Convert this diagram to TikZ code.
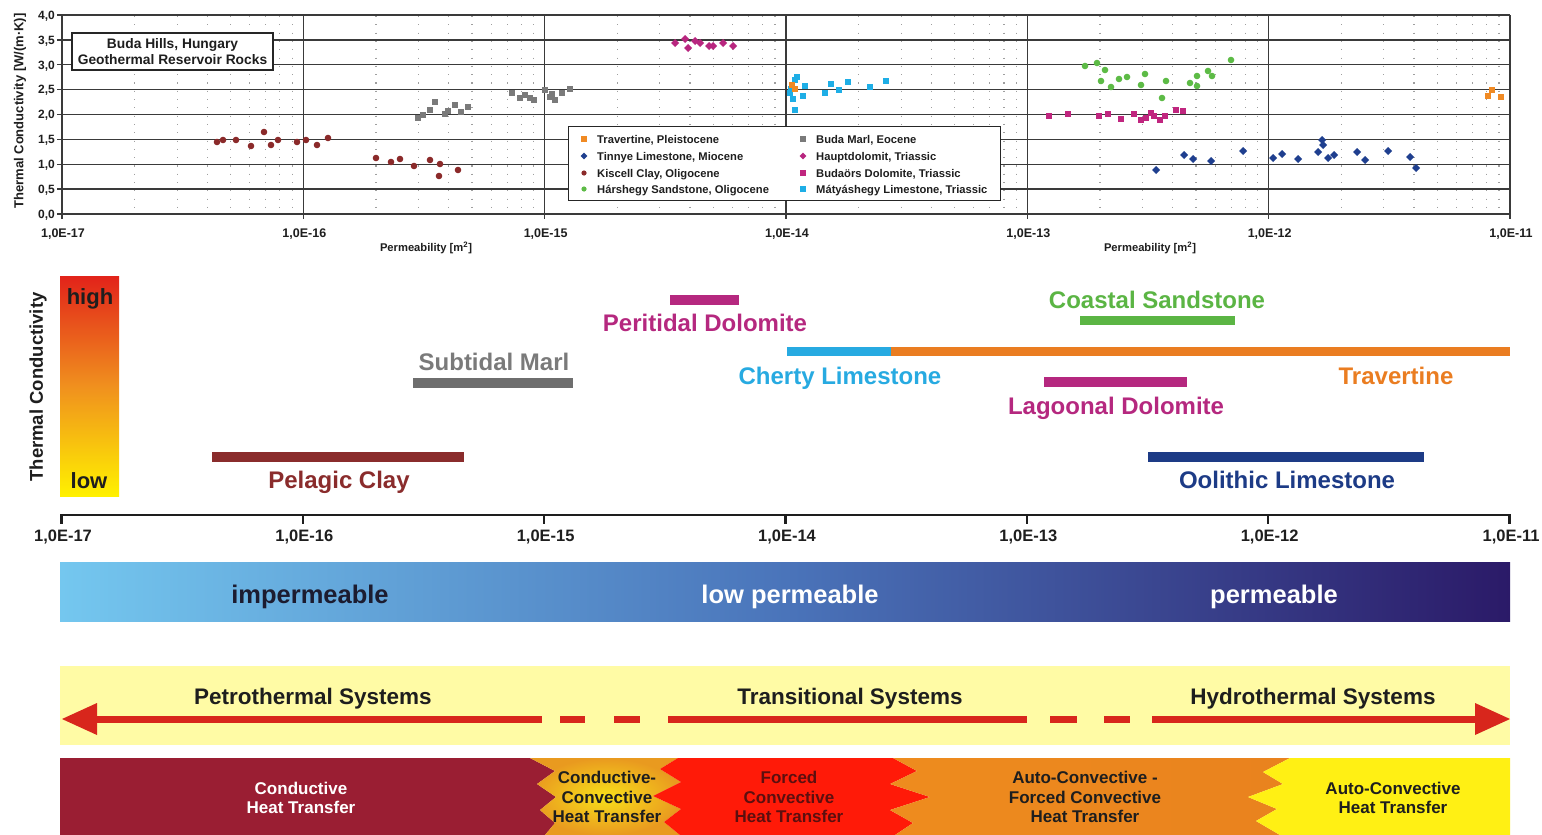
\documentclass[tikz,border=0pt]{standalone}
\usepackage{fontspec}
\setmainfont{Liberation Sans}
\usetikzlibrary{shapes.geometric}
\definecolor{cTrav}{HTML}{F08A24}
\definecolor{cTinn}{HTML}{1F3F8F}
\definecolor{cKisc}{HTML}{8B2A2A}
\definecolor{cHars}{HTML}{5DBB46}
\definecolor{cMarl}{HTML}{7A7A7A}
\definecolor{cHaup}{HTML}{B8267F}
\definecolor{cBudo}{HTML}{C0267F}
\definecolor{cMaty}{HTML}{1EAEE6}
\definecolor{txtd}{HTML}{1E1E1E}
\definecolor{gridc}{HTML}{3A3A3A}
\definecolor{hiC}{HTML}{E2231A}
\definecolor{midC}{HTML}{F0901E}
\definecolor{loC}{HTML}{FFF100}
\definecolor{rMag}{HTML}{B5287F}
\definecolor{rGreen}{HTML}{5BB544}
\definecolor{rGrey}{HTML}{6E6E6E}
\definecolor{rGreyT}{HTML}{7A7A7A}
\definecolor{rCyan}{HTML}{27AAE1}
\definecolor{rOrange}{HTML}{EA7D21}
\definecolor{rRed}{HTML}{8A2C2C}
\definecolor{rNavy}{HTML}{1D3B86}
\definecolor{pL}{HTML}{74C7EF}
\definecolor{pM}{HTML}{4A74BA}
\definecolor{pR}{HTML}{2B1A68}
\definecolor{pTxt}{HTML}{1C1C30}
\definecolor{sysY}{HTML}{FFFBA5}
\definecolor{arrR}{HTML}{D8261C}
\definecolor{hMaroon}{HTML}{9A1E33}
\definecolor{hYel}{HTML}{F8E01A}
\definecolor{hOrg}{HTML}{E99A1F}
\definecolor{hRed}{HTML}{FF1A08}
\definecolor{hO1}{HTML}{EE8C1E}
\definecolor{hO2}{HTML}{F8C81A}
\definecolor{hO3}{HTML}{E9821E}
\definecolor{hY}{HTML}{FFF014}
\definecolor{hRedTxt}{HTML}{5C0F0F}
\newcommand{\fsz}[2]{\fontsize{#1}{#2}\selectfont}
\newcommand\Msq[4]{\fill[#1] ({#2-#4},{#3-#4}) rectangle ({#2+#4},{#3+#4});}
\newcommand\Mdi[4]{\fill[#1] ({#2},{#3-#4}) -- ({#2+#4},{#3}) -- ({#2},{#3+#4}) -- ({#2-#4},{#3}) -- cycle;}
\newcommand\Mci[4]{\fill[#1] (#2,#3) circle (#4pt);}
\begin{document}
\begin{tikzpicture}[x=1pt,y=-1pt,
  every node/.style={inner sep=0pt},
  grid/.style={draw=gridc,line width=1.3pt},
  dotl/.style={draw=gray!75,line width=1.1pt,dash pattern=on 1.1pt off 7.2pt},
  tlab/.style={font=\bfseries\fsz{12.5}{14},text=txtd,anchor=base},
  leg/.style={font=\bfseries\fsz{11.2}{13},text=txtd,anchor=base west},
  rock/.style={font=\bfseries\fsz{24}{28},anchor=base},
  axl/.style={font=\bfseries\fsz{16.5}{19},text=txtd,anchor=base},
  perm/.style={font=\bfseries\fsz{25.5}{30},anchor=base},
  sys/.style={font=\bfseries\fsz{22.5}{26},text=txtd,anchor=base},
  heat/.style={font=\bfseries\fsz{17}{19.5},align=center},
  arrline/.style={draw=arrR,line width=7pt}
]
\useasboundingbox (0,0) rectangle (1542,835);
\fill[white] (0,0) rectangle (1542,835);

% ---------------- top chart ----------------
\foreach \d in {0,...,5} \foreach \m in {2,...,9}
  \draw[dotl] ({62+(\d+log10(\m))*241.333},16) -- ({62+(\d+log10(\m))*241.333},213);
\foreach \v in {0,...,8} \draw[grid] (57,{214-\v*24.875}) -- (1510,{214-\v*24.875});
\foreach \d in {0,...,6} \draw[grid] ({62+\d*241.333},15) -- ({62+\d*241.333},219);

\foreach \v/\a/\b in {0/0/0,1/0/5,2/1/0,3/1/5,4/2/0,5/2/5,6/3/0,7/3/5,8/4/0}
  \node[font=\bfseries\fsz{12}{14},text=txtd,anchor=base east] (yl\v) at (55,{214-\v*24.875+4.3}) {\a,\b};
\foreach \d/\e in {0/17,1/16,2/15,3/14,4/13,5/12,6/11}
  \node[tlab] (tx\e) at ({63+\d*241.333},237.5) {1,0E-\e};
\node[font=\bfseries\fsz{11.2}{13},text=txtd,anchor=base] (plA) at (426,251) {Permeability [m\textsuperscript{2}]};
\node[font=\bfseries\fsz{11.2}{13},text=txtd,anchor=base] (plB) at (1150,251) {Permeability [m\textsuperscript{2}]};
\node[font=\bfseries\fsz{13}{15},text=txtd,rotate=90] (ytitle) at (20,111) {Thermal Conductivity [W/(m·K)]};

\node[draw=black!85,line width=1.2pt,fill=white,minimum width=201pt,minimum height=37pt,align=center,font=\bfseries\fsz{13.8}{16.5},text=txtd] (buda) at (172.5,51.5) {Buda Hills, Hungary\\Geothermal Reservoir Rocks};

\node[draw=black!85,line width=1pt,fill=white,minimum width=432pt,minimum height=74pt] (legend) at (784,163) {};
\Msq{cTrav}{584}{139}{2.6}
\Mdi{cTinn}{584}{156}{3.3}
\Mci{cKisc}{584}{173}{2.6}
\Mci{cHars}{584}{189}{2.6}
\Msq{cMarl}{803}{139}{2.6}
\Mdi{cHaup}{803}{156}{3.3}
\Msq{cBudo}{803}{173}{2.6}
\Msq{cMaty}{803}{189}{2.6}
\node[leg] (lg1) at (597,143) {Travertine, Pleistocene};
\node[leg] (lg2) at (597,160) {Tinnye Limestone, Miocene};
\node[leg] (lg3) at (597,177) {Kiscell Clay, Oligocene};
\node[leg] (lg4) at (597,193) {Hárshegy Sandstone, Oligocene};
\node[leg] (lg5) at (816,143) {Buda Marl, Eocene};
\node[leg] (lg6) at (816,160) {Hauptdolomit, Triassic};
\node[leg] (lg7) at (816,177) {Budaörs Dolomite, Triassic};
\node[leg] (lg8) at (816,193) {Mátyáshegy Limestone, Triassic};

% data points
\foreach \x/\y in {217/142,223/140,236/140,251/146,264/132,271/145,278/140,297/142,306/140,317/145,328/138,376/158,391/162,400/159,414/166,430/160,440/164,439/176,458/170}
  {\Mci{cKisc}{\x}{\y}{3.3}}
\foreach \x/\y in {418/118,423/115,430/110,435/102,445/114,448/111,455/105,461/112,468/107,512/93,520/98,525/95,530/98,534/100,545/90,550/97,552/94,555/100,562/93,570/89}
  {\Msq{cMarl}{\x}{\y}{3.2}}
\foreach \x/\y in {675/43,685/39,688/48,695/41,700/43,709/46,713/46,723/43,733/46}
  {\Mdi{cHaup}{\x}{\y}{4}}
\foreach \x/\y in {797/77,795/80,791/89,790/93,793/99,795/110,805/86,803/96,825/93,831/84,839/90,848/82,870/87,886/81}
  {\Msq{cMaty}{\x}{\y}{3.2}}
\foreach \x/\y in {792/85,795/89,1488/96,1492/90,1501/97}
  {\Msq{cTrav}{\x}{\y}{3.3}}
\foreach \x/\y in {1085/66,1097/63,1105/70,1101/81,1111/87,1119/79,1127/77,1145/74,1141/85,1162/98,1166/81,1190/83,1197/76,1197/86,1208/71,1212/76,1231/60}
  {\Mci{cHars}{\x}{\y}{3.3}}
\foreach \x/\y in {1049/116,1068/114,1099/116,1108/114,1121/119,1134/114,1141/120,1146/118,1151/113,1154/116,1160/120,1165/116,1176/110,1183/111}
  {\Msq{cBudo}{\x}{\y}{3.2}}
\foreach \x/\y in {1156/170,1184/155,1193/159,1211/161,1243/151,1273/158,1282/154,1298/159,1318/152,1322/140,1323/145,1328/158,1334/155,1357/152,1365/160,1388/151,1410/157,1416/168}
  {\Mdi{cTinn}{\x}{\y}{4}}

% ---------------- middle panel ----------------
\shade[top color=hiC,bottom color=loC,middle color=midC] (60,276) rectangle (119,496);
\node[font=\bfseries\fsz{22}{26},text=txtd,anchor=base] (hi) at (90,304) {high};
\node[font=\bfseries\fsz{22}{26},text=txtd,anchor=base] (lo) at (89,488) {low};
\node[font=\bfseries\fsz{18.5}{22},text=txtd,rotate=90] (tc) at (38,387) {Thermal Conductivity};

\fill[rMag] (670,295) rectangle (739,305);
\node[rock,text=rMag] (perit) at (705,331) {Peritidal Dolomite};
\fill[rGreen] (1080,316) rectangle (1235,325);
\node[rock,text=rGreen] (coast) at (1157,308) {Coastal Sandstone};
\fill[rGrey] (413,378) rectangle (573,388);
\node[rock,text=rGreyT] (marl) at (494,370) {Subtidal Marl};
\fill[rCyan] (787,347) rectangle (891,356);
\fill[rOrange] (891,347) rectangle (1510,356);
\node[rock,text=rCyan] (cherty) at (840,384) {Cherty Limestone};
\node[rock,text=rOrange] (trav) at (1396,384) {Travertine};
\fill[rMag] (1044,377) rectangle (1187,387);
\node[rock,text=rMag] (lagoon) at (1116,414) {Lagoonal Dolomite};
\fill[rRed] (212,452) rectangle (464,462);
\node[rock,text=rRed] (pelag) at (339,488) {Pelagic Clay};
\fill[rNavy] (1148,452) rectangle (1424,462);
\node[rock,text=rNavy] (oolit) at (1287,488) {Oolithic Limestone};

\draw[line width=2.6pt,draw=txtd] (60,515) -- (1511,515);
\foreach \d/\e in {0/17,1/16,2/15,3/14,4/13,5/12,6/11} {
  \draw[line width=2.4pt,draw=txtd] ({61.5+\d*241.333},514) -- ({61.5+\d*241.333},524);
  \node[axl] (bx\e) at ({63+\d*241.333},541.5) {1,0E-\e};
}

% permeability band
\shade[left color=pL,right color=pR,middle color=pM] (60,562) rectangle (1510,621);
\node[perm,text=pTxt] (imp) at (310,603) {impermeable};
\node[perm,text=white] (lowp) at (790,603) {low permeable};
\node[perm,text=white] (perm) at (1274,603) {permeable};

% systems band
\fill[sysY] (60,666) rectangle (1510,745);
\coordinate (aL) at (62,719);
\coordinate (aR) at (1510,719);
\fill[arrR] (aL) -- (97,703) -- (97,735) -- cycle;
\fill[arrR] (aR) -- (1475,703) -- (1475,735) -- cycle;
\draw[arrline] (94,719) -- (542,719);
\draw[arrline] (560,719) -- (585,719);
\draw[arrline] (614,719) -- (640,719);
\draw[arrline] (668,719) -- (1027,719);
\draw[arrline] (1050,719) -- (1077,719);
\draw[arrline] (1104,719) -- (1130,719);
\draw[arrline] (1152,719) -- (1478,719);
\node[sys] (petro) at (313,704) {Petrothermal Systems};
\node[sys] (trans) at (850,704) {Transitional Systems};
\node[sys] (hydro) at (1313,704) {Hydrothermal Systems};

% heat transfer band
\fill[hMaroon] (60,758) -- (530,758) -- (555,771) -- (537,784) -- (556,797) -- (540,810) -- (555,823) -- (545,835) -- (60,835) -- cycle;
\shade[inner color=hYel,outer color=hOrg] (530,758) -- (555,771) -- (537,784) -- (556,797) -- (540,810) -- (555,823) -- (545,835)
  -- (680,835) -- (664,822) -- (681,809) -- (653,796) -- (681,782) -- (660,769) -- (678,758) -- cycle;
\fill[hRed] (678,758) -- (660,769) -- (681,782) -- (653,796) -- (681,809) -- (664,822) -- (680,835)
  -- (895,835) -- (913,823) -- (890,810) -- (930,797) -- (890,784) -- (917,771) -- (893,758) -- cycle;
\shade[left color=hO1,middle color=hO2,right color=hO3] (893,758) -- (917,771) -- (890,784) -- (930,797) -- (890,810) -- (913,823) -- (895,835)
  -- (1280,835) -- (1256,821) -- (1277,809) -- (1248,797) -- (1283,784) -- (1263,772) -- (1290,758) -- cycle;
\fill[hY] (1290,758) -- (1263,772) -- (1283,784) -- (1248,797) -- (1277,809) -- (1256,821) -- (1280,835) -- (1510,835) -- (1510,758) -- cycle;

\node[heat,text=white] (h1) at (301,798) {Conductive\\Heat Transfer};
\node[heat,text=txtd] (h2) at (607,797) {Conductive-\\Convective\\Heat Transfer};
\node[heat,text=hRedTxt] (h3) at (789,797) {Forced\\Convective\\Heat Transfer};
\node[heat,text=txtd] (h4) at (1085,797) {Auto-Convective -\\Forced Convective\\Heat Transfer};
\node[heat,text=txtd] (h5) at (1393,798) {Auto-Convective\\Heat Transfer};
\end{tikzpicture}
\end{document}
